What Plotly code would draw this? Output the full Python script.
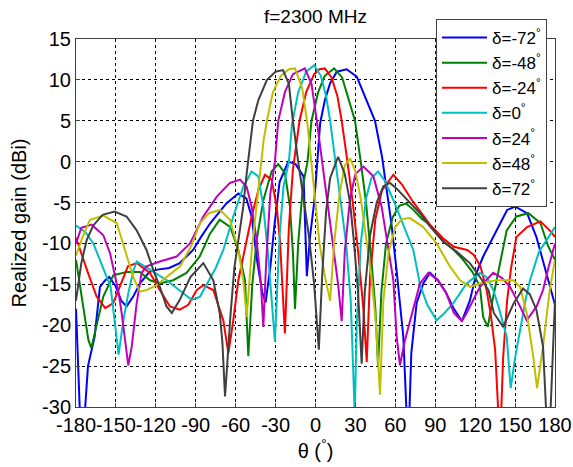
import plotly.graph_objects as go

theta_ticks = [-180, -150, -120, -90, -60, -30, 0, 30, 60, 90, 120, 150, 180]
gain_ticks = [-30, -25, -20, -15, -10, -5, 0, 5, 10, 15]

names = ["δ=-72<sup>°</sup>", "δ=-48<sup>°</sup>", "δ=-24<sup>°</sup>", "δ=0<sup>°</sup>",
         "δ=24<sup>°</sup>", "δ=48<sup>°</sup>", "δ=72<sup>°</sup>"]
colors = ["#0000FF", "#008000", "#FF0000", "#00BFBF", "#BF00BF", "#BFBF00", "#404040"]

blue_pts = [(-180,-18),(-178.5,-24),(-177,-31),(-173.5,-31),(-171,-25),(-166,-21.4),(-162,-15.3),(-158,-14.5),
    (-155,-14.1),(-150,-15.3),(-146,-17),(-142,-17.7),(-137,-16.5),(-132,-14.9),(-125,-13.5),(-119,-13.2),
    (-110,-13),(-102,-12.4),(-92,-10.8),(-86,-9.2),(-79,-7.5),(-67,-5.1),(-58,-3.9),(-52,-4.5),(-48,-6.7),
    (-44,-12),(-40,-16),(-37.5,-17.2),(-34,-13),(-31,-8),(-27,-2.5),(-20.5,0),(-15,-0.3),(-9,-1.8),(-7.5,-8),
    (-6.5,-14),(-4,-9),(-1,-5),(1.5,0.3),(3.5,4.7),(7,7.5),(11,9.6),(16,11),(23.4,11.3),(31,10.4),(38.5,7.5),
    (44.7,5),(50,0.6),(52.5,-2.2),(57,-7.5),(61,-13.4),(66,-21.4),(68.5,-31),(70.5,-31),(72,-23.4),(76,-17.3),
    (81,-14.9),(86,-13.6),(92,-14.5),(98,-16),(104,-18),(110,-19.5),(116,-17),(121,-13.6),(126,-11.6),
    (131,-10),(136,-8.4),(144,-5.9),(150,-5.5),(159,-6.3),(166,-9.2),(172,-12.8),(176,-15),(180,-17.5)]

green_pts = [(-180,-12),(-175.7,-16.5),(-170.7,-21.8),(-168.5,-22.8),(-164.5,-20),(-159.5,-16.5),(-152,-13.9),
    (-142,-13.5),(-132,-13.5),(-124.4,-14.5),(-117,-14.9),(-107,-14.5),(-97,-13.6),(-87,-11.6),(-79.3,-8.8),
    (-72,-7.1),(-64,-8),(-58,-10.8),(-53,-14.5),(-50.5,-23.8),(-47.5,-15),(-44.2,-9.6),(-39.2,-4.7),(-33,-1.2),
    (-28,-0.3),(-23,-1.4),(-19.2,-5.5),(-17,-11),(-15.4,-18),(-13,-10),(-9.5,-3),(-6,0),(-3,5),(2,8.5),
    (7,10.5),(14,11.4),(20,10.3),(25,7.5),(29.7,5),(34,0),(38,-5),(42,-12),(45,-18),(47,-25),(49.5,-16),
    (53,-10),(58,-6.8),(63,-5.4),(68,-5.1),(73,-5.8),(80,-7),(86,-7.7),(96,-9.7),(104,-10.8),(111,-12),
    (118,-13.5),(123.6,-15.3),(126,-19),(129.5,-20.2),(133,-17),(136.2,-14.5),(140,-11.5),(143.7,-8.4),
    (151,-6.7),(160,-6.3),(169,-7.5),(175,-10.4),(180,-12)]

red_pts = [(-180,-9.3),(-177,-10.8),(-171,-13.6),(-164.5,-16.5),(-158,-17.9),(-152,-17.3),(-146,-14.9),
    (-141,-12.8),(-134.4,-12.4),(-124.4,-13.6),(-117,-15.7),(-109.4,-17.7),(-102,-18.1),(-95.6,-17.5),
    (-89.3,-15.7),(-84.3,-15.1),(-76.8,-15.7),(-69.3,-19.4),(-65.5,-23.4),(-61.8,-19.4),(-58,-14.5),
    (-53,-10.8),(-48,-6.7),(-43,-3.5),(-38,-1.6),(-33,-2.2),(-29.2,-5.5),(-26.7,-9.6),(-23,-21),(-20,-8),
    (-17,-1),(-12,5),(-7,8.5),(-1,10.7),(3,11.3),(7,11.4),(12,10.3),(16.5,8),(19.7,5),(24,0),(28,-5),
    (32,-11),(36,-18),(38.5,-24.5),(41,-14),(45,-7),(50,-3.5),(58.5,-1.6),(65,-2.8),(72,-4.6),(80,-6.4),
    (86,-7.7),(96,-9.4),(104,-10.4),(114,-10.8),(119,-11.4),(124,-12.8),(128.6,-15.7),(132,-19),(135,-23),
    (137.5,-31),(139.5,-31),(141,-24),(144,-17),(147,-13),(151,-9.2),(159,-8),(169,-7.3),(176,-8.4),(180,-9.2)]

cyan_pts = [(-180,-7.8),(-173,-8.6),(-167,-10),(-161,-12.4),(-157,-14),(-154,-15.3),(-151,-19.4),(-148,-23.6),
    (-144.4,-19.4),(-140.7,-16.1),(-137,-13.4),(-134.4,-12.2),(-124.4,-13.2),(-111.8,-14.5),(-99.4,-16.1),
    (-93,-16.9),(-86.8,-16.5),(-80,-14.5),(-75,-13),(-69.3,-10.8),(-61.8,-6.7),(-54.3,-3.1),(-48,-1.2),
    (-43,-1.8),(-39.2,-5.5),(-35.5,-11.6),(-30.5,-22),(-27,-9),(-24,-3),(-20,0),(-17.7,4.5),(-13,8.5),
    (-7,11),(-1,11.8),(4,10.5),(8,8),(11,5),(15,0),(19,-5),(23,-10),(26.5,-17),(29.5,-31),(31,-20),(34,-10),
    (38,-4.5),(42,-2),(47,-1.2),(52,-2.3),(58,-4.5),(63.5,-6.7),(68,-8.5),(73.5,-10.8),(78.5,-15),(84,-17.5),
    (91,-19.4),(97,-18.5),(103.6,-17.3),(113.6,-14.9),(123.6,-13.6),(129,-14.2),(133.6,-15.7),(138,-18),
    (143.7,-21.4),(146.7,-27.7),(150,-24),(153.7,-20.6),(158,-16.8),(161.2,-14.5),(168,-11),(173.7,-9.6),(180,-8)]

magenta_pts = [(-180,-10),(-176,-8.1),(-168.2,-7.7),(-159.5,-9),(-154.4,-11.2),(-151,-13.8),(-148,-16),
    (-145.7,-18.5),(-142,-23.4),(-140.7,-24.9),(-138.1,-22.6),(-134.4,-17.3),(-130.7,-13.6),(-127,-12.8),
    (-117,-12.2),(-104.3,-11.6),(-94.3,-10),(-84.3,-6.7),(-74.3,-4.3),(-64.3,-2.6),(-56.7,-2.2),(-51.7,-3.1),
    (-48,-5.5),(-44.2,-9.6),(-41,-15),(-39.2,-20.2),(-37,-12),(-34,-4),(-30.5,0),(-28,5),(-23,8.5),(-17,10.7),
    (-8,11.4),(-3,9.5),(1,5),(5,0),(9,-5),(13,-10),(17,-15),(19.7,-19.5),(22,-11),(26,-4.5),(30,-1.5),
    (36,-0.6),(43.5,-1.8),(49.7,-5.5),(54.7,-10.8),(58.5,-14.5),(61,-21.4),(63.5,-24.9),(67,-22),(71,-19.4),
    (78.5,-14.9),(84.8,-13.6),(92,-14.5),(98,-16),(104,-18.5),(110,-19.5),(113.6,-18.5),(123.6,-15.3),
    (133.6,-13.6),(140,-14.2),(146.2,-15.3),(153.7,-17.7),(158.7,-19.4),(166.2,-17.7),(171,-15.7),(175,-13),(180,-10)]

yellow_pts = [(-180,-11.5),(-175,-9.2),(-169.5,-7.1),(-159.5,-6.6),(-149.4,-7.5),(-143,-10.8),(-137,-14.1),
    (-132,-15.9),(-127,-15.7),(-119.4,-15.1),(-111.8,-14.1),(-101.8,-12.8),(-93,-10.2),(-86.8,-7.5),(-80,-6.3),
    (-71.8,-5.9),(-64.3,-7.1),(-58,-10.8),(-54.3,-14.5),(-51.7,-19),(-48,-11),(-44.2,-5.5),(-41.7,-1.4),
    (-39,2.6),(-36.5,5),(-32,8.5),(-26,10.5),(-20,11.3),(-15.4,11.4),(-10,9),(-6,4.5),(-3,0),(0,-5),(3,-10),
    (7,-14),(11,-17),(14,-10),(18,-4),(22,-0.5),(26,0.4),(30,-1.2),(34,-4.5),(38,-9),(42,-14),(45.5,-20),
    (48.5,-28.5),(51,-17),(55,-11),(60,-8),(65,-7),(71,-6.9),(81,-8),(91,-10),(101,-12.8),(108.6,-14.5),
    (116,-15.3),(123.6,-14.9),(136,-14.5),(148.6,-14.5),(153.7,-15.3),(158.7,-18.5),(163.7,-23.9),
    (166.5,-27.7),(171,-22.6),(176,-15.7),(180,-12)]

gray_pts = [(-180,-17),(-176,-12.4),(-172,-9.6),(-167,-7.8),(-160,-6.5),(-151,-6.1),(-142,-6.7),(-134.4,-8.4),
    (-127,-10.8),(-122,-13.2),(-117,-15.3),(-112,-17.7),(-108,-18.5),(-102,-16.9),(-94,-14.1),(-84.3,-12.4),
    (-76.8,-14.5),(-72,-18.5),(-70,-22),(-68,-28.7),(-66,-24),(-64,-19),(-61,-13),(-58,-9.6),(-54.3,-5.5),
    (-51.7,-1.4),(-49,2.6),(-47,5),(-43,7.5),(-36.5,10),(-30,11),(-24.4,11.2),(-20,9.5),(-17,5),(-13,0),
    (-9,-4.7),(-5,-9),(-1,-15),(2.5,-23),(5,-14),(8,-6),(11,-2),(17,0.6),(22,-1.5),(26,-5),(29,-10),(32,-16),
    (34.7,-24.7),(37,-16),(41,-9),(46,-5),(51,-3),(56,-2.6),(61,-3.3),(70,-4.8),(78.5,-6.3),(86,-7.9),
    (96,-9.8),(106,-11),(116,-12.4),(123.6,-14.1),(130,-15.7),(134,-18.5),(141,-20.2),(149,-17.3),(156,-15.5),
    (161,-16.2),(166,-18.1),(171,-22.6),(173.5,-31),(176.5,-31),(178.5,-24),(180,-17)]

series = [blue_pts, green_pts, red_pts, cyan_pts, magenta_pts, yellow_pts, gray_pts]

FONT = "Arial, 'Liberation Sans', Helvetica, sans-serif"

fig = go.Figure()
for pts, name, col in zip(series, names, colors):
    fig.add_trace(go.Scatter(
        x=[p[0] for p in pts], y=[p[1] for p in pts], mode="lines", name=name,
        line=dict(color=col, width=2)))

W, H = 573, 467
L, R, T, B = 76, 18, 39, 60
pw, ph = W - L - R, H - T - B

axis_common = dict(
    showline=True, linecolor="#404040", linewidth=1, mirror=True,
    showgrid=True, gridcolor="#000000", gridwidth=1, griddash="3px,3px",
    zeroline=False, ticks="inside", ticklen=4, tickcolor="#404040",
    tickfont=dict(family=FONT, size=20, color="black"),
    automargin=False, tickangle=0,
)

fig.update_layout(
    width=W, height=H,
    margin=dict(l=L, r=R, t=T, b=B, pad=0),
    paper_bgcolor="white", plot_bgcolor="white",
    title=dict(text="f=2300 MHz", x=(L + pw / 2) / W, xanchor="center",
               y=1 - 16 / H, yanchor="middle",
               font=dict(family=FONT, size=19, color="black")),
    xaxis=dict(range=[-180, 180], tickvals=theta_ticks, ticktext=[str(v) for v in theta_ticks],
               title=dict(text="θ (<sup>°</sup>)", font=dict(family=FONT, size=20, color="black"), standoff=8),
               **axis_common),
    yaxis=dict(range=[-30, 15], tickvals=gain_ticks, ticktext=[str(v) for v in gain_ticks],
               title=dict(text="Realized gain (dBi)", font=dict(family=FONT, size=20, color="black"), standoff=10),
               **axis_common),
    legend=dict(x=(436 - L) / pw, y=(H - B - 19) / ph, xanchor="left", yanchor="top",
                bgcolor="white", bordercolor="#404040", borderwidth=1, itemwidth=45,
                entrywidth=112, entrywidthmode="pixels",
                font=dict(family=FONT, size=17, color="black"), tracegroupgap=0),
    showlegend=True,
)

fig.write_html("out.html")
